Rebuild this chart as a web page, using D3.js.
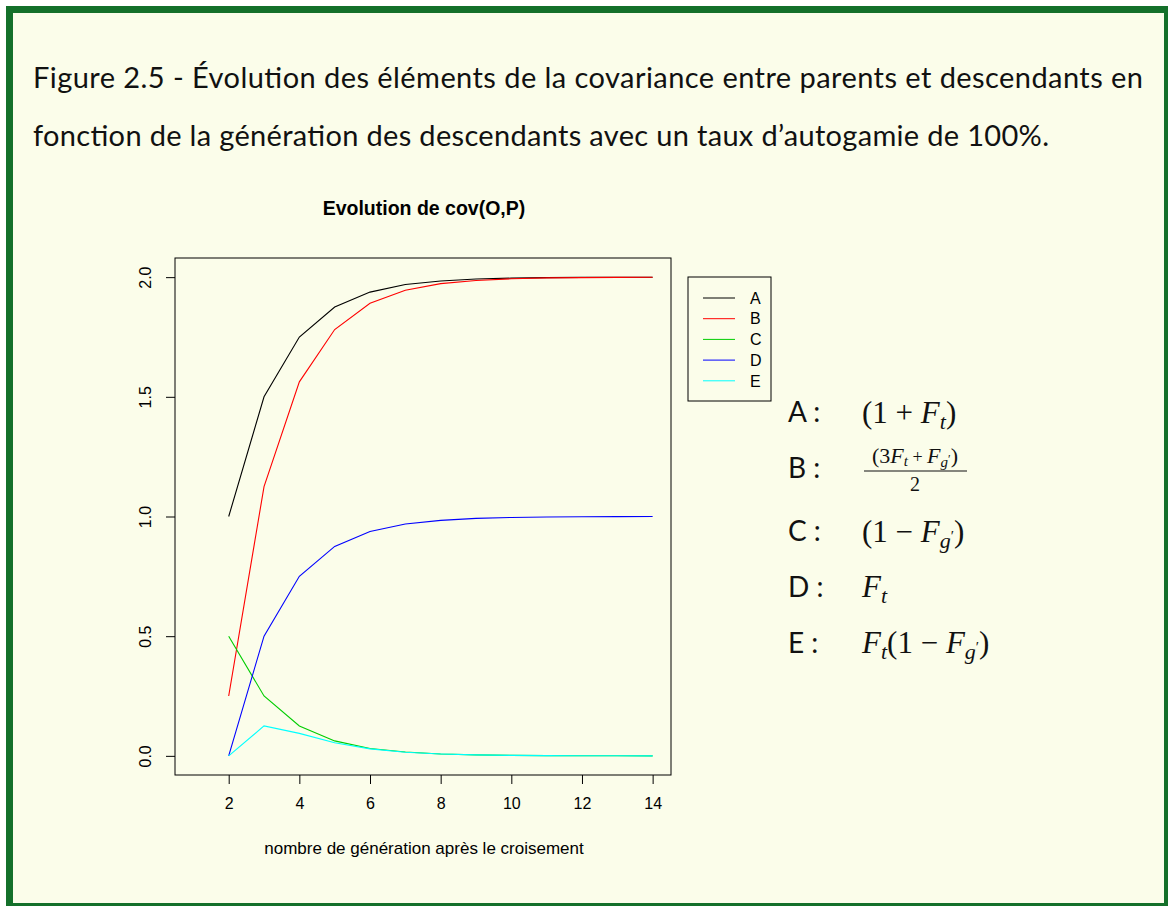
<!DOCTYPE html>
<html>
<head>
<meta charset="utf-8">
<script src="https://cdn.jsdelivr.net/npm/d3@7"></script>
<style>
  body { margin: 0; background: #fff; }
  svg { display: block; }
</style>
</head>
<body>
<div id="chart"></div>
<script>
// donnees
var generations = [2, 3, 4, 5, 6, 7, 8, 9, 10, 11, 12, 13, 14];
var serieA = [1, 1.5, 1.75, 1.875, 1.9375, 1.969, 1.984, 1.992, 1.996, 1.998, 1.999, 1.9995, 1.9998];
var serieB = [0.25, 1.125, 1.5625, 1.781, 1.891, 1.945, 1.973, 1.986, 1.993, 1.997, 1.998, 1.9992, 1.9996];
var serieC = [0.5, 0.25, 0.125, 0.0625, 0.031, 0.016, 0.008, 0.004, 0.002, 0.001, 0.0005, 0.0002, 0.0001];
var serieD = [0, 0.5, 0.75, 0.875, 0.9375, 0.969, 0.984, 0.992, 0.996, 0.998, 0.999, 0.9995, 0.9998];
var serieE = [0, 0.125, 0.094, 0.055, 0.029, 0.015, 0.008, 0.004, 0.002, 0.001, 0.0005, 0.0002, 0.0001];
var noms = ["A", "B", "C", "D", "E"];
var couleurs = ["#000000", "#ff0000", "#00cd00", "#0000ff", "#00ffff"];
var xTicks = [2, 4, 6, 8, 10, 12, 14];
var yTicks = [0, 0.5, 1, 1.5, 2];

var width = 1168, height = 906;

var svg = d3.select("#chart").append("svg")
    .attr("width", width)
    .attr("height", height);

// cadre vert
svg.append("rect")
    .attr("x", 6).attr("y", 6)
    .attr("width", width).attr("height", height)
    .attr("fill", "#14702a");
svg.append("rect")
    .attr("x", 13).attr("y", 13)
    .attr("width", 1151).attr("height", 890)
    .attr("fill", "#fbfdea");

// titre de la figure
var entete = [
  {t: "Figure 2.5 - Évolution des éléments de la covariance entre parents et descendants en", y: 88, len: 1110},
  {t: "fonction de la génération des descendants avec un taux d’autogamie de 100%.", y: 146, len: 1016}
];
svg.selectAll("text.entete")
  .data(entete)
  .enter().append("text")
    .attr("class", "entete")
    .attr("x", 33)
    .attr("y", function(d) { return d.y; })
    .attr("textLength", function(d) { return d.len; })
    .attr("lengthAdjust", "spacing")
    .style("font-family", "Lato, 'Open Sans', sans-serif")
    .style("font-size", "29px")
    .style("fill", "#111")
    .text(function(d) { return d.t; });

// zone du graphique
var box = {left: 175, right: 671, top: 258, bottom: 775};

var x = d3.scaleLinear().domain([0.48, 14.52]).range([box.left, box.right]);
var y = d3.scaleLinear().domain([-0.08, 2.08]).range([box.bottom, box.top]);

var fontR = "'Liberation Sans', Arial, sans-serif";

svg.append("text")
    .attr("x", 424)
    .attr("y", 215)
    .attr("text-anchor", "middle")
    .style("font-family", fontR)
    .style("font-weight", "bold")
    .style("font-size", "19.5px")
    .text("Evolution de cov(O,P)");

// axes
var xAxis = svg.append("g")
    .attr("transform", "translate(0," + box.bottom + ")")
    .call(d3.axisBottom(x).tickValues(xTicks).tickSize(9).tickPadding(14).tickFormat(d3.format("d")));
xAxis.select(".domain").remove();
xAxis.selectAll("line").attr("stroke", "#000");
xAxis.selectAll("text").style("font-family", fontR).style("font-size", "16px").attr("fill", "#000");

var yAxis = svg.append("g")
    .attr("transform", "translate(" + box.left + ",0)")
    .call(d3.axisLeft(y).tickValues(yTicks).tickSize(9).tickFormat(d3.format(".1f")));
yAxis.select(".domain").remove();
yAxis.selectAll("line").attr("stroke", "#000");
yAxis.selectAll("text")
    .attr("x", null)
    .attr("text-anchor", "middle")
    .attr("transform", "translate(-30,0) rotate(-90)")
    .attr("y", 0)
    .attr("dy", "0.35em")
    .style("font-family", fontR).style("font-size", "16px").attr("fill", "#000");

svg.append("rect")
    .attr("x", box.left).attr("y", box.top)
    .attr("width", box.right - box.left).attr("height", box.bottom - box.top)
    .attr("fill", "none").attr("stroke", "#000").attr("stroke-width", 1);

svg.append("text")
    .attr("x", 424)
    .attr("y", 854)
    .attr("text-anchor", "middle")
    .style("font-family", fontR)
    .style("font-size", "17px")
    .text("nombre de génération après le croisement");

// courbes
var series = [serieA, serieB, serieC, serieD, serieE];
var ligne = d3.line()
    .x(function(d, i) { return x(generations[i]); })
    .y(function(d) { return y(d); });

svg.selectAll("path.serie")
  .data(series)
  .enter().append("path")
    .attr("class", "serie")
    .attr("d", ligne)
    .attr("fill", "none")
    .attr("stroke", function(d, i) { return couleurs[i]; })
    .attr("stroke-width", 1.1);

// legende
var leg = svg.append("g");
leg.append("rect")
    .attr("x", 688).attr("y", 277)
    .attr("width", 83).attr("height", 124)
    .attr("fill", "none").attr("stroke", "#000");
var item = leg.selectAll("g.item")
  .data(noms)
  .enter().append("g")
    .attr("class", "item")
    .attr("transform", function(d, i) { return "translate(0," + (298 + i * 20.7) + ")"; });
item.append("line")
    .attr("x1", 703).attr("x2", 735)
    .attr("stroke", function(d, i) { return couleurs[i]; });
item.append("text")
    .attr("x", 750).attr("dy", "0.36em")
    .style("font-family", fontR).style("font-size", "16px")
    .text(function(d) { return d; });

// formules
var fontLbl = "Lato, 'DejaVu Sans', sans-serif";
var fontMath = "'Liberation Serif', 'DejaVu Serif', serif";
var formules = [
  {nom: "A", y: 422},
  {nom: "B", y: 478},
  {nom: "C", y: 541},
  {nom: "D", y: 597},
  {nom: "E", y: 653}
];
svg.selectAll("text.lbl")
  .data(formules)
  .enter().append("text")
    .attr("class", "lbl")
    .attr("x", 788)
    .attr("y", function(d) { return d.y; })
    .style("font-family", fontLbl)
    .style("font-size", "28px")
    .style("fill", "#111")
    .text(function(d) { return d.nom + " :"; });

function math(xx, yy, size) {
  return svg.append("text")
      .attr("x", xx).attr("y", yy)
      .style("font-family", fontMath)
      .style("font-size", size + "px")
      .style("fill", "#111");
}
function part(t, txt, italic, dy, size) {
  var s = t.append("tspan").text(txt);
  if (italic) s.style("font-style", "italic");
  if (dy) s.attr("dy", dy);
  if (size) s.style("font-size", size + "px");
  return s;
}

// A : (1 + Ft)
var tA = math(862, 423, 31);
part(tA, "(1 + ");
part(tA, "F", true);
part(tA, "t", true, 6, 22);
part(tA, ")", false, -6);

// B : fraction
var tB = math(915, 463, 22).attr("text-anchor", "middle");
part(tB, "(3");
part(tB, "F", true);
part(tB, "t", true, 3, 15);
part(tB, " + ", false, -3, 18);
part(tB, "F", true);
part(tB, "g", true, 4, 15);
part(tB, "′", false, -4, 12);
part(tB, ")", false, 0);
svg.append("line")
    .attr("x1", 864).attr("x2", 967)
    .attr("y1", 471).attr("y2", 471)
    .attr("stroke", "#111").attr("stroke-width", 1.2);
math(915, 491, 20).attr("text-anchor", "middle").text("2");

// C : (1 - Fg')
var tC = math(862, 542, 31);
part(tC, "(1 − ");
part(tC, "F", true);
part(tC, "g", true, 6, 22);
part(tC, "′", false, -7, 15);
part(tC, ")", false, 1);

// D : Ft
var tD = math(862, 597, 31);
part(tD, "F", true);
part(tD, "t", true, 6, 22);

// E : Ft(1 - Fg')
var tE = math(862, 653, 31);
part(tE, "F", true);
part(tE, "t", true, 6, 22);
part(tE, "(1 − ", false, -6);
part(tE, "F", true);
part(tE, "g", true, 6, 22);
part(tE, "′", false, -7, 15);
part(tE, ")", false, 1);
</script>
</body>
</html>
